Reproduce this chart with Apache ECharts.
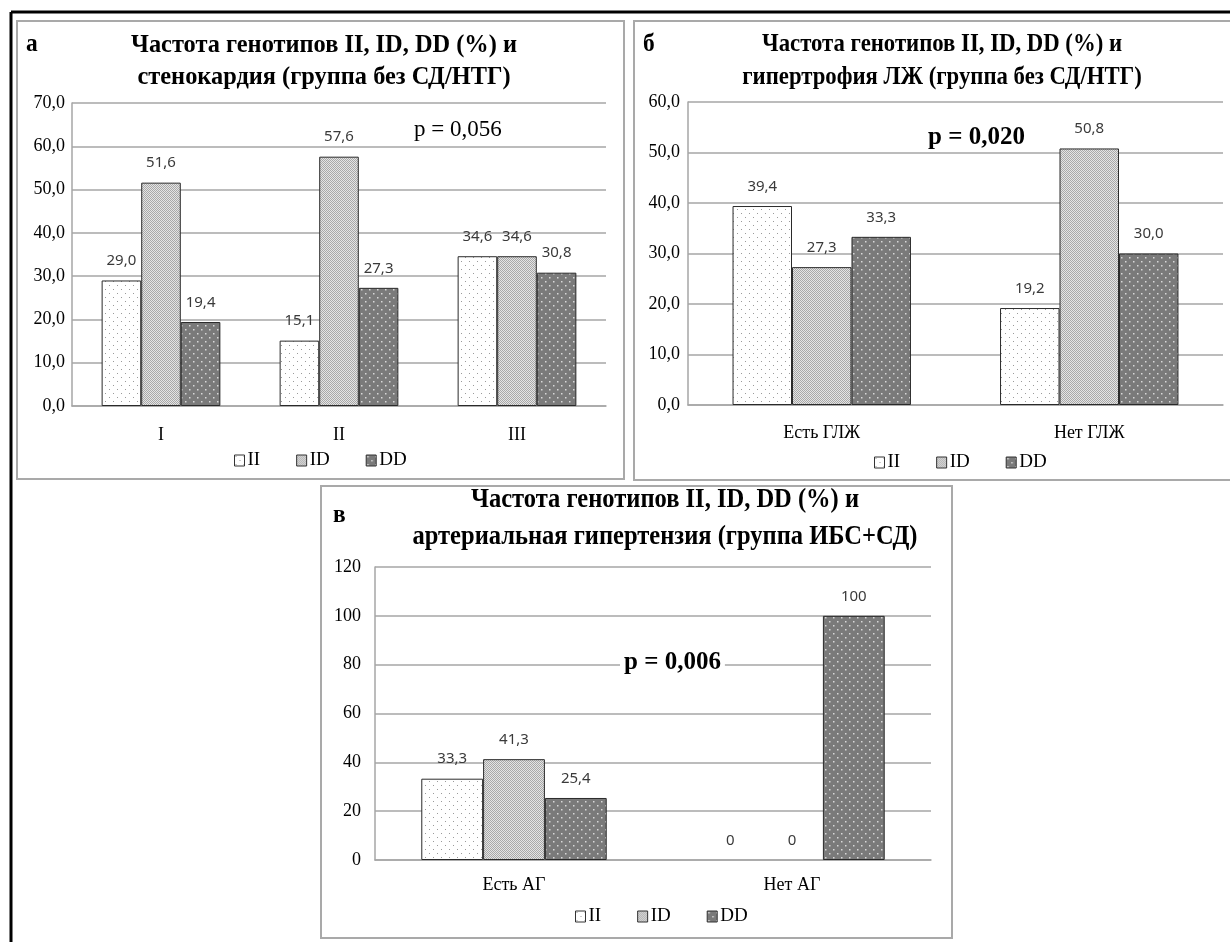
<!DOCTYPE html>
<html>
<head>
<meta charset="utf-8">
<script src="https://cdn.jsdelivr.net/npm/echarts@6/dist/echarts.min.js"></script>
<style>
  html, body { margin: 0; padding: 0; background: #fff; }
  #chart { width: 1230px; height: 942px; }
</style>
</head>
<body>
<div id="chart"></div>
<script>
// ---- data ----
const seriesNames = ['II', 'ID', 'DD'];

const categoriesA = ['I', 'II', 'III'];
const valuesA_II = [29.0, 15.1, 34.6];
const valuesA_ID = [51.6, 57.6, 34.6];
const valuesA_DD = [19.4, 27.3, 30.8];

const categoriesB = ['Есть ГЛЖ', 'Нет ГЛЖ'];
const valuesB_II = [39.4, 19.2];
const valuesB_ID = [27.3, 50.8];
const valuesB_DD = [33.3, 30.0];

const categoriesC = ['Есть АГ', 'Нет АГ'];
const valuesC_II = [33.3, 0];
const valuesC_ID = [41.3, 0];
const valuesC_DD = [25.4, 100];

const titleA = ['Частота генотипов II, ID, DD (%) и', 'стенокардия (группа без СД/НТГ)'];
const titleB = ['Частота генотипов II, ID, DD (%) и', 'гипертрофия ЛЖ (группа без СД/НТГ)'];
const titleC = ['Частота генотипов II, ID, DD (%) и', 'артериальная гипертензия (группа ИБС+СД)'];
const pTextA = 'p = 0,056';
const pTextB = 'p = 0,020';
const pTextC = 'p = 0,006';

// ---- fill patterns ----
function dotTile(bg, dot, size, r) {
  const c = document.createElement('canvas');
  c.width = size; c.height = size;
  const g = c.getContext('2d');
  g.fillStyle = bg; g.fillRect(0, 0, size, size);
  g.fillStyle = dot;
  g.fillRect(1, 1, r, r);
  g.fillRect(1 + size / 2, 1 + size / 2, r, r);
  return c;
}
function checkerTile(a, b) {
  const c = document.createElement('canvas');
  c.width = 2; c.height = 2;
  const g = c.getContext('2d');
  g.fillStyle = b; g.fillRect(0, 0, 2, 2);
  g.fillStyle = a; g.fillRect(0, 0, 1, 1); g.fillRect(1, 1, 1, 1);
  return c;
}
const fills = {
  II: { image: dotTile('#ffffff', '#9a9a9a', 8, 1), repeat: 'repeat' },
  ID: { image: checkerTile('#a8a8a8', '#e4e4e4'), repeat: 'repeat' },
  DD: { image: dotTile('#7a7a7a', '#d8d8d8', 8, 1.5), repeat: 'repeat' }
};

// ---- helpers ----
const SERIF = '"Liberation Serif", "Times New Roman", serif';
const measureCtx = document.createElement('canvas').getContext('2d');
function textWidth(str, font) { measureCtx.font = font; return measureCtx.measureText(str).width; }

function comma(v, digits) {
  return (digits == null ? String(v) : v.toFixed(digits)).replace('.', ',');
}

function barSeries(name, data, idx, digits) {
  return {
    name: name,
    type: 'bar',
    xAxisIndex: idx,
    yAxisIndex: idx,
    // zero-height bars keep their value label but draw no outline
    data: data.map(v => v === 0 ? { value: v, itemStyle: { borderWidth: 0 } } : v),
    barGap: '0%',
    barCategoryGap: '33.3%',
    itemStyle: { color: fills[name], borderColor: '#2a2a2a', borderWidth: 1 },
    label: {
      show: true,
      position: 'top',
      distance: 12,
      fontFamily: '"Noto Sans", sans-serif',
      fontSize: 15,
      color: '#3a3a3a',
      formatter: p => comma(p.value, digits)
    },
    emphasis: { disabled: true },
    silent: true,
    animation: false
  };
}

function yAxis(idx, max, interval, digits, margin) {
  return {
    type: 'value', gridIndex: idx, min: 0, max: max, interval: interval,
    axisLine: { show: true, lineStyle: { color: '#a6a6a6', width: 1.5 } },
    axisTick: { show: false },
    splitLine: { lineStyle: { color: '#a6a6a6', width: 1.5 } },
    axisLabel: {
      fontFamily: SERIF, fontSize: 18, color: '#000', margin: margin,
      formatter: v => comma(v, digits)
    }
  };
}
function xAxis(idx, cats, margin) {
  return {
    type: 'category', gridIndex: idx, data: cats,
    axisLine: { show: true, lineStyle: { color: '#a6a6a6', width: 1.5 } },
    axisTick: { show: false },
    axisLabel: { fontFamily: SERIF, fontSize: 18, color: '#000', margin: margin }
  };
}
function legend(idx, left, top) {
  return {
    data: seriesNames,
    left: left, top: top,
    orient: 'horizontal',
    itemWidth: 10, itemHeight: 11, itemGap: 36,
    icon: 'rect',
    selectedMode: false,
    itemStyle: { borderColor: '#333', borderWidth: 1 },
    textStyle: { fontFamily: SERIF, fontSize: 19, color: '#000', padding: [0, 0, 0, -2] }
  };
}

// Title block: two bold lines squeezed horizontally so that the reference line fits a width
function titleBlock(lines, cx, y1, y2, size, refLine, width) {
  const font = 'bold ' + size + 'px ' + SERIF;
  const sx = width / textWidth(lines[refLine], font);
  return lines.map((t, i) => ({
    type: 'text', x: cx, y: i === 0 ? y1 : y2, scaleX: sx, silent: true,
    style: { text: t, font: font, fill: '#000', align: 'center', verticalAlign: 'middle' }
  }));
}
function plainText(t, x, y, size, bold, sx, bg) {
  const el = {
    type: 'text', x: x, y: y, scaleX: sx || 1, silent: true, z: 100,
    style: { text: t, font: (bold ? 'bold ' : '') + size + 'px ' + SERIF, fill: '#000',
             align: 'left', verticalAlign: 'middle' }
  };
  if (bg) { el.style.backgroundColor = bg; el.style.padding = [2, 4]; }
  return el;
}

const panelStroke = { stroke: '#a9a9a9', lineWidth: 2, fill: null };

const graphics = [
  // outer frame
  { type: 'line', silent: true, shape: { x1: 11, y1: 12, x2: 1230, y2: 12 }, style: { stroke: '#000', lineWidth: 3 } },
  { type: 'line', silent: true, shape: { x1: 11, y1: 12, x2: 11, y2: 942 }, style: { stroke: '#000', lineWidth: 3 } },
  // panel frames
  { type: 'rect', silent: true, shape: { x: 17, y: 21, width: 607, height: 458 }, style: panelStroke },
  { type: 'rect', silent: true, shape: { x: 634, y: 21, width: 610, height: 459 }, style: panelStroke },
  { type: 'rect', silent: true, shape: { x: 321, y: 486, width: 631, height: 452 }, style: panelStroke },
  // panel letters
  plainText('а', 26, 44, 26, true, 0.9),
  plainText('б', 643, 44, 26, true, 0.9),
  plainText('в', 333, 515, 26, true, 0.9),
  // p-values
  plainText(pTextA, 414, 130, 23, false, 1),
  plainText(pTextB, 928, 138, 25, true, 1),
  plainText(pTextC, 620, 663, 25, true, 1, '#ffffff')
].concat(
  titleBlock(titleA, 324, 45, 77, 26, 0, 386),
  titleBlock(titleB, 942, 44, 77, 26, 0, 360),
  titleBlock(titleC, 665, 500, 537, 28, 1, 505)
);

const option = {
  backgroundColor: '#ffffff',
  animation: false,
  grid: [
    { left: 72, top: 103, width: 534, height: 303 },
    { left: 688, top: 102, width: 535, height: 303 },
    { left: 375, top: 567, width: 556, height: 293 }
  ],
  xAxis: [xAxis(0, categoriesA, 20), xAxis(1, categoriesB, 19), xAxis(2, categoriesC, 16)],
  yAxis: [yAxis(0, 70, 10, 1, 7), yAxis(1, 60, 10, 1, 8), yAxis(2, 120, 20, null, 14)],
  legend: [legend(0, 229, 446), legend(1, 869, 448), legend(2, 570, 902)],
  series: [
    barSeries('II', valuesA_II, 0, 1), barSeries('ID', valuesA_ID, 0, 1), barSeries('DD', valuesA_DD, 0, 1),
    barSeries('II', valuesB_II, 1, 1), barSeries('ID', valuesB_ID, 1, 1), barSeries('DD', valuesB_DD, 1, 1),
    barSeries('II', valuesC_II, 2, null), barSeries('ID', valuesC_ID, 2, null), barSeries('DD', valuesC_DD, 2, null)
  ],
  graphic: graphics
};

const chart = echarts.init(document.getElementById('chart'), null, { renderer: 'canvas' });
chart.setOption(option);
</script>
</body>
</html>
